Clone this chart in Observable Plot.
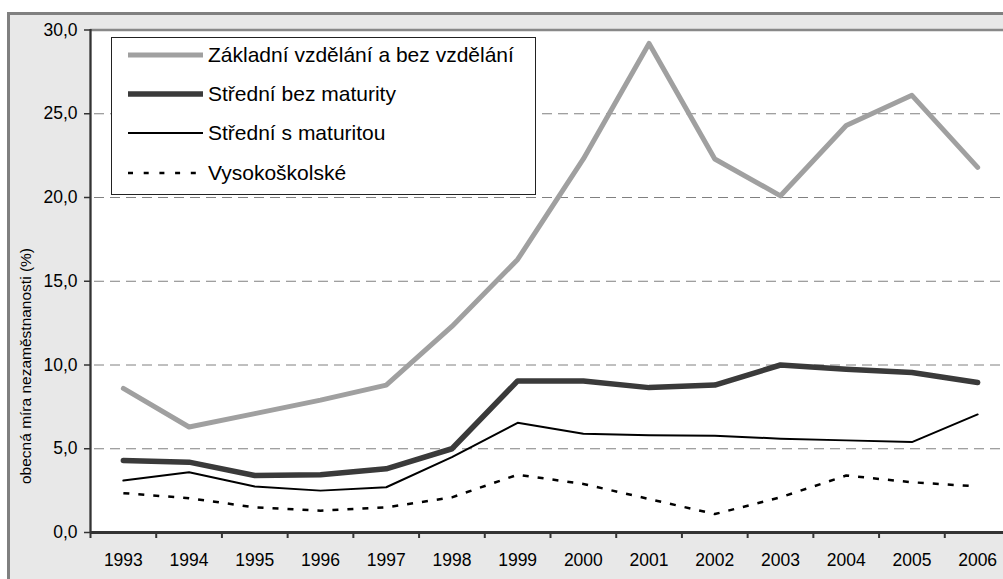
<!DOCTYPE html>
<html>
<head>
<meta charset="utf-8">
<script src="https://cdn.jsdelivr.net/npm/d3@7"></script>
<script src="https://cdn.jsdelivr.net/npm/@observablehq/plot@0.6"></script>
<style>
  html, body { margin: 0; padding: 0; background: #fff; width: 1003px; height: 579px; overflow: hidden; }
  body { font-family: "Liberation Sans", Arial, sans-serif; }
  #wrap { position: relative; width: 1003px; height: 579px; overflow: hidden; }
  #bg { position: absolute; left: 7px; top: 12px; width: 1100px; height: 700px; background: #e8e8e8;
        border-top: 3px solid #808080; border-left: 3px solid #808080; }
  #chart { position: absolute; left: 0; top: 0; }
  #legend { position: absolute; left: 111px; top: 37px; width: 425px; height: 158px; box-sizing: border-box;
            border: 1px solid #222; background: #fff; }
  .row { position: absolute; left: 16px; height: 24px; display: flex; align-items: center;
         font-size: 21px; line-height: 24px; color: #000; white-space: nowrap; }
  .row svg { display: block; margin-right: 5px; }
</style>
</head>
<body>
<div id="wrap">
  <div id="bg"></div>
  <div id="chart"></div>
  <div id="legend"></div>
</div>
<script>
// ---- data ----
const years = [1993, 1994, 1995, 1996, 1997, 1998, 1999, 2000, 2001, 2002, 2003, 2004, 2005, 2006];
const zakladni   = [8.6, 6.3, 7.1, 7.9, 8.8, 12.3, 16.3, 22.3, 29.2, 22.3, 20.1, 24.3, 26.1, 21.8];
const stredniBez = [4.3, 4.2, 3.4, 3.45, 3.8, 5.0, 9.05, 9.05, 8.65, 8.8, 10.0, 9.75, 9.55, 8.95];
const stredniS   = [3.1, 3.6, 2.75, 2.5, 2.7, 4.5, 6.55, 5.9, 5.8, 5.78, 5.6, 5.5, 5.4, 7.05];
const vysoko     = [2.35, 2.05, 1.5, 1.3, 1.5, 2.1, 3.45, 2.9, 2.0, 1.1, 2.1, 3.4, 3.0, 2.75];
const seriesNames = ["Základní vzdělání a bez vzdělání", "Střední bez maturity", "Střední s maturitou", "Vysokoškolské"];
const yTicks = [0, 5, 10, 15, 20, 25, 30];
const yGrid = [5, 10, 15, 20, 25];
const yTitle = "obecná míra nezaměstnanosti (%)";

// ---- styles ----
const styles = [
  {stroke: "#a0a0a0", strokeWidth: 5, dash: null},
  {stroke: "#3a3a3a", strokeWidth: 5.5, dash: null},
  {stroke: "#000000", strokeWidth: 2, dash: null},
  {stroke: "#000000", strokeWidth: 2.5, dash: "6,9"}
];
const seriesValues = [zakladni, stredniBez, stredniS, vysoko];
const rows = seriesValues.map(vals => years.map((year, i) => ({year, value: vals[i]})));
const boundaries = years.map(y => y - 0.5).concat([years[years.length - 1] + 0.5]);
const fmt = d => d.toFixed(1).replace(".", ",");

const lineMarks = rows.map((data, k) => Plot.line(data, {
  x: "year", y: "value",
  stroke: styles[k].stroke, strokeWidth: styles[k].strokeWidth,
  strokeDasharray: styles[k].dash || undefined,
  strokeLinejoin: "round", strokeLinecap: styles[k].dash ? "butt" : "round"
}));

const chart = Plot.plot({
  width: 1003,
  height: 579,
  marginLeft: 90,
  marginTop: 29,
  marginBottom: 47,
  marginRight: 0,
  style: {background: "transparent", fontFamily: "'Liberation Sans', Arial, sans-serif", fontSize: "17.5px", color: "#000", overflow: "visible"},
  x: {type: "linear", domain: [years[0] - 0.5, years[years.length - 1] + 0.5], range: [90, 1010]},
  y: {domain: [0, 30], range: [532, 29.5]},
  marks: [
    Plot.frame({fill: "#fff", stroke: null}),
    Plot.ruleY(yGrid, {stroke: "#808080", strokeWidth: 1, strokeDasharray: "10,6", strokeDashoffset: 12}),
    Plot.ruleY([30], {stroke: "#888", strokeWidth: 2.4}),
    ...lineMarks,
    Plot.axisY(yTicks, {tickFormat: fmt, tickSize: 6, tickPadding: 7, stroke: "#333", fill: "#000", label: null, strokeWidth: 1.5}),
    Plot.axisX(years, {tickFormat: d => String(d), tickSize: 0, tickPadding: 21, fill: "#000", label: null}),
    Plot.axisX(boundaries, {tickFormat: () => "", tickSize: 6, stroke: "#333", strokeWidth: 2, label: null}),
    Plot.ruleX([years[0] - 0.5], {stroke: "#333", strokeWidth: 2.3}),
    Plot.ruleY([0], {stroke: "#333", strokeWidth: 3})
  ]
});
document.getElementById("chart").appendChild(chart);

// y-axis title
d3.select(chart).append("text")
  .attr("transform", "translate(31,366) rotate(-90)")
  .attr("text-anchor", "middle")
  .attr("font-size", "15.5px")
  .attr("fill", "#000")
  .text(yTitle);

// legend
const legend = document.getElementById("legend");
const rowTops = [5, 44.3, 83.3, 123.3];
seriesNames.forEach((name, k) => {
  const row = document.createElement("div");
  row.className = "row";
  row.style.top = rowTops[k] + "px";
  const s = styles[k];
  row.innerHTML = `<svg width="75" height="24"><line x1="0" x2="75" y1="12" y2="12" stroke="${s.stroke}" stroke-width="${s.strokeWidth}" ${s.dash ? `stroke-dasharray="5,10.7"` : ""} stroke-linecap="butt"/></svg><span></span>`;
  row.querySelector("span").textContent = name;
  legend.appendChild(row);
});
</script>
</body>
</html>
